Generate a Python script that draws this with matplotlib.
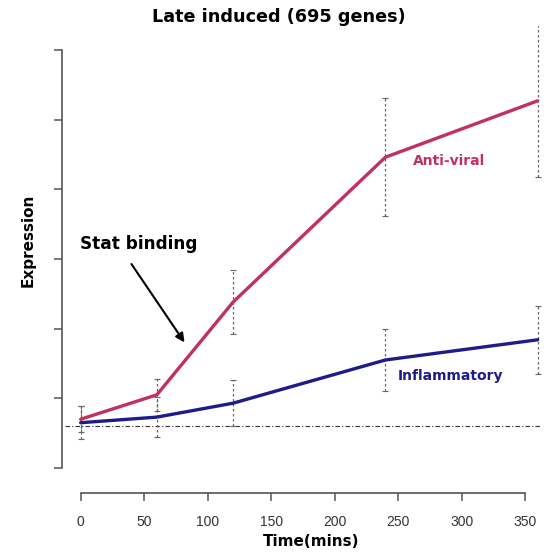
import numpy as np
import matplotlib.pyplot as plt

plt.rcParams['font.family'] = ['Liberation Sans', 'DejaVu Sans']

time = [0, 60, 120, 240, 360]
antiviral = [0.70, 1.05, 2.38, 4.46, 5.27]
antiviral_err = [0.19, 0.23, 0.46, 0.85, 1.10]
inflammatory = [0.65, 0.73, 0.93, 1.55, 1.84]
inflammatory_err = [0.24, 0.29, 0.33, 0.44, 0.49]
baseline = 0.60
xticks = [0, 50, 100, 150, 200, 250, 300, 350]
yticks = [0, 1, 2, 3, 4, 5, 6]

red = '#C2305E'
blue = '#1C1C8A'
axcol = '#555555'
bold = 'DejaVu Sans'

fig = plt.figure(figsize=(5.54, 5.56), dpi=100)
ax = fig.add_axes([0.1126, 0.1133, 0.891, 0.840])

ax.hlines(baseline, -12, 362, colors='#333333', linestyles=(0, (4, 2, 1, 2)), linewidth=0.8)

for y, e in [(antiviral, antiviral_err), (inflammatory, inflammatory_err)]:
    eb = ax.errorbar(time, y, yerr=e, fmt='none', ecolor='#666666', elinewidth=0.9,
                     capsize=2.5, capthick=0.8)
    for lc in eb[2]:
        lc.set_linestyle((0, (2, 2)))

ax.plot(time, antiviral, color=red, linewidth=2.4, solid_capstyle='round')
ax.plot(time, inflammatory, color=blue, linewidth=2.4, solid_capstyle='round')

ax.text(261.7, 4.41, 'Anti-viral', color=red, fontsize=10, fontweight='bold',
        family=bold, va='center')
ax.text(250, 1.32, 'Inflammatory', color=blue, fontsize=10, fontweight='bold',
        family=bold, va='center')
ax.text(-0.5, 3.22, 'Stat binding', color='black', fontsize=12.2, fontweight='bold',
        family=bold, va='center')
ax.annotate('', xy=(83, 1.77), xytext=(38.8, 2.96),
            arrowprops=dict(arrowstyle='-|>', color='black', lw=1.5, mutation_scale=13))

ax.set_xlim(-14.4, 374.4)
ax.set_ylim(-0.359, 6.344)
ax.set_xticks(xticks)
ax.set_yticks(yticks)
ax.set_yticklabels([])
ax.spines['top'].set_visible(False)
ax.spines['right'].set_visible(False)
ax.spines['left'].set_bounds(0, 6)
ax.spines['bottom'].set_bounds(0, 350)
for s in ['left', 'bottom']:
    ax.spines[s].set_color(axcol)
    ax.spines[s].set_linewidth(1.2)
ax.tick_params(direction='out', length=6, width=1.1, color=axcol, labelsize=10,
               labelcolor='#333333')
ax.tick_params(axis='x', pad=10)

fig.text(279 / 554, 1 - 17 / 556, 'Late induced (695 genes)', ha='center', va='center',
         fontsize=12.7, fontweight='bold', family=bold)
fig.text(28 / 554, 1 - 240 / 556, 'Expression', ha='center', va='center',
         rotation=90, fontsize=11, fontweight='bold', family=bold)
fig.text(311 / 554, 1 - 542 / 556, 'Time(mins)', ha='center', va='center',
         fontsize=11, fontweight='bold', family=bold)

fig.savefig('out.png', dpi=100)
